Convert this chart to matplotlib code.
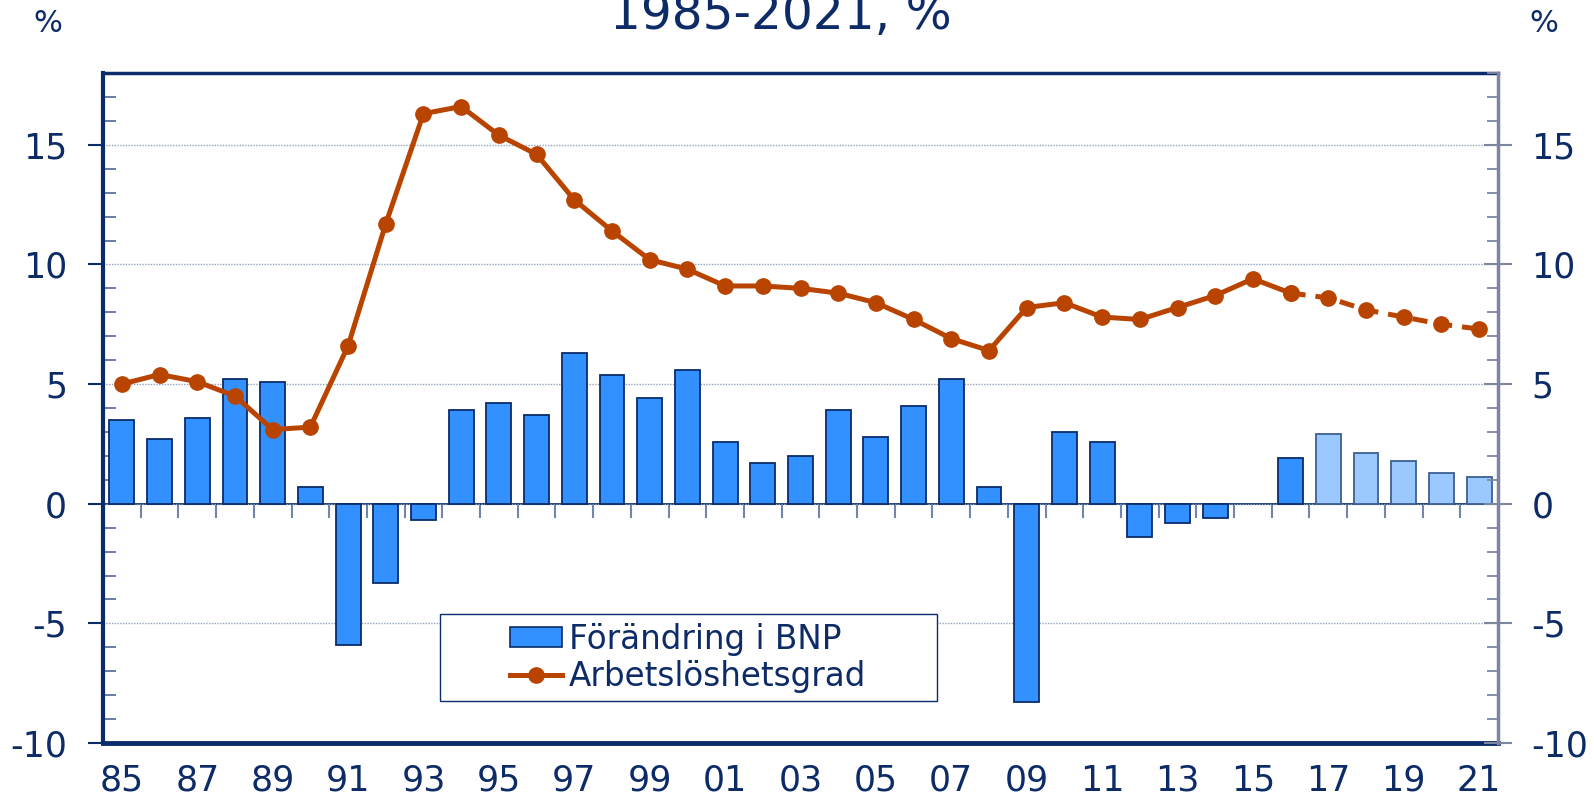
import numpy as np
import matplotlib
matplotlib.use("Agg")
import matplotlib.pyplot as plt
from matplotlib.patches import Rectangle, Patch
from matplotlib.lines import Line2D

years = list(range(1985, 2022))
gdp = [3.5, 2.7, 3.6, 5.2, 5.1, 0.7, -5.9, -3.3, -0.7, 3.9, 4.2, 3.7, 6.3, 5.4, 4.4, 5.6,
       2.6, 1.7, 2.0, 3.9, 2.8, 4.1, 5.2, 0.7, -8.3, 3.0, 2.6, -1.4, -0.8, -0.6, np.nan,
       1.9, 2.9, 2.1, 1.8, 1.3, 1.1]
unemp = [5.0, 5.4, 5.1, 4.5, 3.1, 3.2, 6.6, 11.7, 16.3, 16.6, 15.4, 14.6, 12.7, 11.4, 10.2, 9.8,
         9.1, 9.1, 9.0, 8.8, 8.4, 7.7, 6.9, 6.4, 8.2, 8.4, 7.8, 7.7, 8.2, 8.7, 9.4,
         8.8, 8.6, 8.1, 7.8, 7.5, 7.3]
first_forecast_year = 2017
tick_labels = [f"{y % 100:02d}" for y in years[::2]]
title = "1985-2021, %"
legend_labels = ["Förändring i BNP", "Arbetslöshetsgrad"]

NAVY = "#0B2C6A"
TEXT = "#0D2B66"
BAR = "#3391FF"
BAR_LIGHT = "#9AC8FF"
LINE = "#B84400"
GRID = "#93A2BC"
RIGHT = "#7C879F"

plt.rcParams['font.family'] = ['DejaVu Sans']

W, H = 1594, 801
fig = plt.figure(figsize=(W / 100, H / 100), dpi=100)
ax = fig.add_axes([103 / W, 1 - 743 / H, 1395 / W, 670 / H])

x = np.arange(len(years))
fc = [BAR if y < first_forecast_year else BAR_LIGHT for y in years]
ec = [NAVY if y < first_forecast_year else "#3D5F92" for y in years]
ax.bar(x, gdp, width=0.66, color=fc, edgecolor=ec, linewidth=1.3, zorder=3)

split = years.index(first_forecast_year - 1)
ax.plot(x[:split + 1], unemp[:split + 1], color=LINE, lw=3.6, marker='o', ms=11,
        solid_capstyle='round', zorder=4)
ax.plot(x[split:], unemp[split:], color=LINE, lw=3.6, marker='o', ms=11,
        ls=(0, (3.0, 2.0)), zorder=4)

ax.set_xlim(-0.5, len(years) - 0.5)
ax.set_ylim(-10, 18)

ax.set_xticks(x[::2])
ax.set_xticklabels(tick_labels)
ax.tick_params(axis='x', length=0, pad=15, labelsize=25, labelcolor=TEXT)

yt = [-10, -5, 0, 5, 10, 15]
ax.set_yticks(yt)
ax.set_yticklabels([str(v) for v in yt])
ax.set_yticks(np.arange(-10, 19, 1), minor=True)
ax.tick_params(axis='y', which='major', direction='out', length=11, width=1.5,
               color=NAVY, labelsize=25, labelcolor=TEXT, pad=15)
ax.tick_params(axis='y', which='minor', direction='in', length=9, width=1.3, color="#5C72A0")

ax.grid(axis='y', which='major', color=GRID, lw=1.0, ls=(0, (1, 1)), zorder=0)
ax.set_axisbelow(True)

ax.spines['left'].set_color(NAVY)
ax.spines['left'].set_linewidth(3)
ax.spines['bottom'].set_color(NAVY)
ax.spines['bottom'].set_linewidth(3.5)
ax.spines['top'].set_color(NAVY)
ax.spines['top'].set_linewidth(2.5)
ax.spines['right'].set_visible(False)

# zero line with category ticks
sec = ax.secondary_xaxis(10 / 28)
sec.set_xticks(np.arange(0.5, len(years) - 1, 1.0))
sec.set_xticklabels([])
sec.tick_params(axis='x', direction='out', length=10, width=1.5, color="#6F86AD")
sec.spines['bottom'].set_color(NAVY)
sec.spines['bottom'].set_linewidth(1.3)

ax2 = ax.twinx()
ax2.set_ylim(-10, 18)
ax2.set_yticks(yt)
ax2.set_yticklabels([str(v) for v in yt])
ax2.set_yticks(np.arange(-10, 19, 1), minor=True)
ax2.tick_params(axis='y', which='major', direction='inout', length=20, width=1.5,
                color=RIGHT, labelsize=25, labelcolor=TEXT, pad=14)
ax2.tick_params(axis='y', which='minor', direction='in', length=8, width=1.3, color=RIGHT)
for s in ['left', 'top', 'bottom']:
    ax2.spines[s].set_visible(False)
ax2.spines['right'].set_color(RIGHT)
ax2.spines['right'].set_linewidth(2.5)

# legend
ax.add_patch(Rectangle((0.2416, 0.062), 0.3559, 0.131, transform=ax.transAxes,
                       facecolor='white', edgecolor=NAVY, lw=1.0, zorder=5))
handles = [Patch(facecolor=BAR, edgecolor=NAVY, lw=1.2),
           Line2D([0], [0], color=LINE, lw=3.6, marker='o', ms=11)]
leg = ax.legend(handles, legend_labels, loc='center', bbox_to_anchor=(0.4194, 0.1275),
                frameon=False, fontsize=23.5, handlelength=1.6, handleheight=0.55,
                handletextpad=0.2, labelspacing=0.12, borderpad=0)
for t in leg.get_texts():
    t.set_color(TEXT)
leg.set_zorder(6)

fig.text(781 / W, 1 - 29 / H, title, ha='center', va='baseline', fontsize=35, color=TEXT)
fig.text(47.5 / W, 1 - 23.5 / H, "%", ha='center', va='center', fontsize=22, color=TEXT)
fig.text(1544 / W, 1 - 23.5 / H, "%", ha='center', va='center', fontsize=22, color=TEXT)

fig.savefig("out.png", dpi=100)
